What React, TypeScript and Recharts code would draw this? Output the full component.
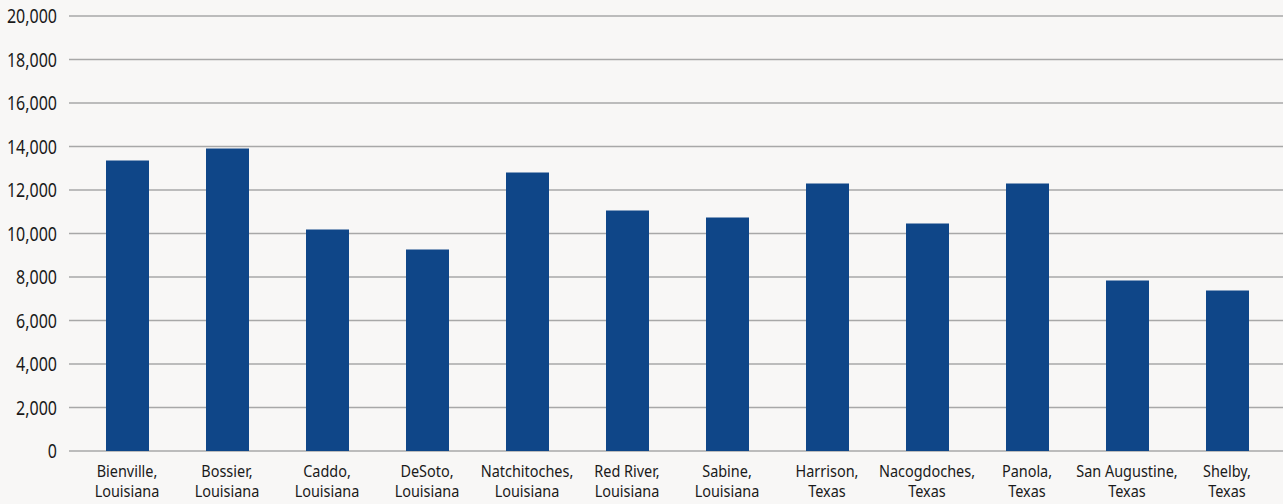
import { BarChart, Bar, XAxis, YAxis, CartesianGrid } from "recharts";

const counties = [
  "Bienville, Louisiana",
  "Bossier, Louisiana",
  "Caddo, Louisiana",
  "DeSoto, Louisiana",
  "Natchitoches, Louisiana",
  "Red River, Louisiana",
  "Sabine, Louisiana",
  "Harrison, Texas",
  "Nacogdoches, Texas",
  "Panola, Texas",
  "San Augustine, Texas",
  "Shelby, Texas",
];
const values = [13360, 13910, 10180, 9265, 12805, 11055, 10735, 12300, 10460, 12300, 7840, 7380];
const yTicks = [0, 2000, 4000, 6000, 8000, 10000, 12000, 14000, 16000, 18000, 20000];

const data = counties.map((name, i) => ({ name, value: values[i] }));

// no condensed face installed, so squeeze Noto Sans horizontally
const FONT = '"Noto Sans", "DejaVu Sans", sans-serif';

const CountyTick = ({ x, y, payload }: any) => {
  const [first, second] = String(payload.value).split(", ");
  return (
    <g transform={`translate(${x},${y}) scale(0.85,1)`}>
      <text x={0} y={0} textAnchor="middle" fill="#1a1a1a" fontSize={17} fontFamily={FONT}>
        <tspan x={0} dy={18}>{first},</tspan>
        <tspan x={0} dy={20.5}>{second}</tspan>
      </text>
    </g>
  );
};

const ValueTick = ({ x, y, payload }: any) => (
  <g transform={`translate(${x},${y}) scale(0.8,1)`}>
    <text x={0} y={0} dy="0.355em" textAnchor="end" fill="#1a1a1a" fontSize={20} fontFamily={FONT}>
      {Number(payload.value).toLocaleString("en-US")}
    </text>
  </g>
);

export default function App() {
  return (
    <div style={{ position: "absolute", left: 0, top: 0, width: 1283, height: 504, background: "#f8f7f6" }}>
      <BarChart width={1283} height={504} data={data} margin={{ top: 16, right: 0, bottom: 0, left: 0 }}>
        <CartesianGrid horizontal vertical={false} stroke="#a8a8a8" strokeWidth={1.5} />
        <XAxis
          dataKey="name"
          interval={0}
          tickLine={false}
          axisLine={false}
          height={53}
          padding={{ left: 8, right: 6 }}
          tick={<CountyTick />}
        />
        <YAxis
          domain={[0, 20000]}
          ticks={yTicks}
          tickLine={false}
          axisLine={false}
          width={69}
          tickMargin={6}
          tick={<ValueTick />}
        />
        <Bar dataKey="value" fill="#0f4688" barSize={43} isAnimationActive={false} />
      </BarChart>
    </div>
  );
}
